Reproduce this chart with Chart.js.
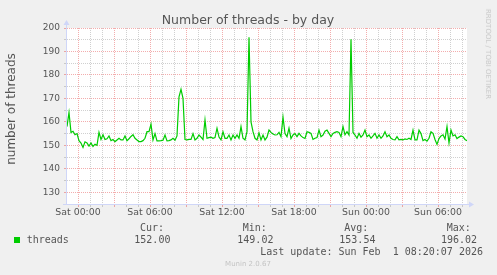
<!DOCTYPE html>
<html><head><meta charset="utf-8">
<script src="https://cdn.jsdelivr.net/npm/chart.js@4"></script>
<style>
html,body{margin:0;padding:0;background:#f0f0f0;}
#wrap{position:relative;width:497px;height:275px;overflow:hidden;background:#f0f0f0;}
canvas{position:absolute;left:0;top:0;}
.t{position:absolute;white-space:pre;font-family:'DejaVu Sans',sans-serif;color:#555;}
.m{position:absolute;white-space:pre;font-family:'DejaVu Sans Mono',monospace;font-size:10px;line-height:12px;color:#555;}
</style></head><body>
<div id="wrap">
<canvas id="c" width="497" height="275"></canvas>
</div>
<script>
// ---- data (5-min averaged samples read every 10 minutes) ----
const seriesName = 'threads';
const startMinutes = -55;      // first sample, minutes relative to Sat 00:00
const stepMinutes = 10;
const values = [
 158,164,155.5,156,154.5,155,152,151,149.1,151.5,
 151,149.7,151,149.5,150.5,150,155.5,152.5,154.5,152.5,
 152.8,154,152,152.5,151.6,152.3,153,152.3,152.3,154,
 152,152.8,153.8,154.5,153,152.3,151.6,151.6,152,153,
 155.8,155.8,159,152.3,155,151.9,151.9,152,152.2,154.4,
 151.9,152,152.3,153,152.2,154,170.7,173.9,170,152.5,
 152.3,152.5,152.5,155,152.3,153,154.4,153.5,152.5,160.8,
 153,153.3,153.5,153,153.3,157.3,153.5,152.3,155.8,153,
 153,154.4,152.3,154.4,153,154.4,153,158,153,152.3,
 155.8,196.02,160,155.8,153,152.3,155.3,152.3,154.4,152.3,
 153.5,156.5,155.5,154.8,154.4,154.5,155.5,153.7,162,155,
 153.7,157.3,152.9,154.4,155,153.7,155.1,154,153.3,152.9,
 155.8,155.5,155.1,152.5,153,153.3,156.5,153.7,154.4,156,
 156.5,155.1,153.7,155.1,155.5,155.8,155.5,153.7,158,154.5,
 155.8,154.4,195.2,155.5,154.4,153,155.1,153.5,154.4,156.5,
 153.7,154.4,153,154,155.1,153,154.4,153,154,155.8,
 153.7,154.4,153,152.5,152.3,153.7,152.3,152.5,152.3,152.7,
 152.5,153,152.5,156.5,152.3,152.3,156.5,155,152,152.5,
 151.8,153,155.8,155.1,152.5,150.4,152.9,154,154.5,152.7,
 158,151,156.5,154,154.5,152.9,153.5,154,153.7,152.5,
 152
];
const hourTicks = [0,1,2,3,4,5,6,7,8,9,10,11,12,13,14,15,16,17,18,19,20,21,22,23,24,25,26,27,28,29,30,31,32];
const dayNames = ['Sat','Sun'];
const yTicks = [125,130,135,140,145,150,155,160,165,170,175,180,185,190,195,200];
const statLabels = ['Cur:','Min:','Avg:','Max:'];
const statValues = ['152.00','149.02','153.54','196.02'];
const titleText = 'Number of threads - by day';
const yTitle = 'number of threads';
const lastUpdate = 'Last update: Sun Feb  1 08:20:07 2026';
const footer = 'Munin 2.0.67';
const watermark = 'RRDTOOL / TOBI OETIKER';

// ---- styles ----
const LINE = '#00cc00';
const MAJOR = 'rgba(226,60,60,0.42)';
const MINOR = 'rgba(150,150,150,0.45)';
const AXIS = '#cfd6f8';

const wrap = document.getElementById('wrap');
function addDiv(cls, text, css){ const d=document.createElement('div'); d.className=cls; d.textContent=text; d.style.cssText=css; wrap.appendChild(d); return d; }

addDiv('t', titleText, 'left:0;top:11.7px;width:496px;text-align:center;font-size:12.5px;line-height:15px;');
addDiv('t', yTitle, 'left:11px;top:109px;font-size:12px;line-height:14px;transform:translate(-50%,-50%) rotate(-90deg);');
addDiv('t', watermark, 'left:487.5px;top:53.5px;font-size:7px;line-height:8px;color:#c8c8c8;transform:translate(-50%,-50%) rotate(90deg);');
addDiv('t', footer, 'left:0;top:260px;width:496px;text-align:center;font-size:7px;line-height:8px;color:#c4c4c4;');
const sq = document.createElement('div'); sq.style.cssText='position:absolute;left:14px;top:237px;width:6px;height:6px;background:'+LINE+';'; wrap.appendChild(sq);
addDiv('m', seriesName, 'left:26.7px;top:233.8px;');
const labelX = [140,242.7,344.3,446.7];
const valueX = [134.3,237.3,339.3,441];
statLabels.forEach((s,i)=>addDiv('m', s, 'left:'+labelX[i]+'px;top:221.8px;'));
statValues.forEach((s,i)=>addDiv('m', s, 'left:'+valueX[i]+'px;top:233.8px;'));
addDiv('m', lastUpdate, 'left:0;top:245.8px;width:483px;text-align:right;');

const points = values.map((v,i)=>({x:(startMinutes+i*stepMinutes)/60, y:v}));

const bgPlugin = {
  id:'bg',
  beforeDraw(chart){
    const {ctx, chartArea:a} = chart;
    ctx.save(); ctx.fillStyle='#ffffff'; ctx.fillRect(a.left,a.top,a.right-a.left,a.bottom-a.top); ctx.restore();
  },
  afterDraw(chart){
    const {ctx, chartArea:a} = chart;
    ctx.save();
    ctx.strokeStyle=AXIS; ctx.fillStyle=AXIS; ctx.lineWidth=1;
    const lx = Math.round(a.left)-0.5, by = Math.round(a.bottom)+0.5;
    ctx.beginPath(); ctx.moveTo(lx, by); ctx.lineTo(lx, a.top-4); ctx.stroke();
    ctx.beginPath(); ctx.moveTo(a.left-4, by); ctx.lineTo(a.right+3, by); ctx.stroke();
    ctx.beginPath(); ctx.moveTo(lx-3, a.top-3); ctx.lineTo(lx+3, a.top-3); ctx.lineTo(lx, a.top-8); ctx.closePath(); ctx.fill();
    ctx.beginPath(); ctx.moveTo(a.right+2, by-3); ctx.lineTo(a.right+2, by+3); ctx.lineTo(a.right+7, by); ctx.closePath(); ctx.fill();
    ctx.restore();
  }
};

const xColor = c => (c.tick && c.tick.value % 3 === 0) ? MAJOR : MINOR;
const yColor = c => (c.tick && c.tick.value % 10 === 0) ? MAJOR : MINOR;

new Chart(document.getElementById('c'), {
  type:'line',
  data:{datasets:[{label:seriesName, data:points, borderColor:LINE, borderWidth:1.2, pointRadius:0, fill:false, tension:0}]},
  options:{
    responsive:false, animation:false, devicePixelRatio:1,
    layout:{padding:{left:0,right:30,top:28,bottom:0}},
    plugins:{legend:{display:false}, title:{display:false}, tooltip:{enabled:false}},
    scales:{
      x:{
        type:'linear', min:startMinutes/60, max:(startMinutes+(values.length-1)*stepMinutes)/60,
        afterBuildTicks(s){ s.ticks = hourTicks.map(v=>({value:v})); },
        afterFit(s){ s.height = 71; },
        grid:{color:xColor, tickColor:xColor, tickLength:3, lineWidth:1},
        border:{display:false, dash:[1,1]},
        ticks:{autoSkip:false, maxRotation:0, minRotation:0, padding:0, color:'#555',
          font:{family:'DejaVu Sans', size:9.4},
          callback(v){ if (v % 6 !== 0) return ''; const d = dayNames[Math.floor(v/24)]; const h = v % 24; return d + ' ' + String(h).padStart(2,'0') + ':00'; }}
      },
      y:{
        min:125, max:200,
        afterBuildTicks(s){ s.ticks = yTicks.map(v=>({value:v})); },
        afterFit(s){ s.width = 67; },
        grid:{color:yColor, tickColor:yColor, tickLength:3, lineWidth:1},
        border:{display:false, dash:[1,1]},
        ticks:{autoSkip:false, padding:4, color:'#555', font:{family:'DejaVu Sans', size:9},
          callback(v){ return (v % 10 === 0 && v >= 130) ? String(v) : ''; }}
      }
    }
  },
  plugins:[bgPlugin]
});
</script>
</body></html>
